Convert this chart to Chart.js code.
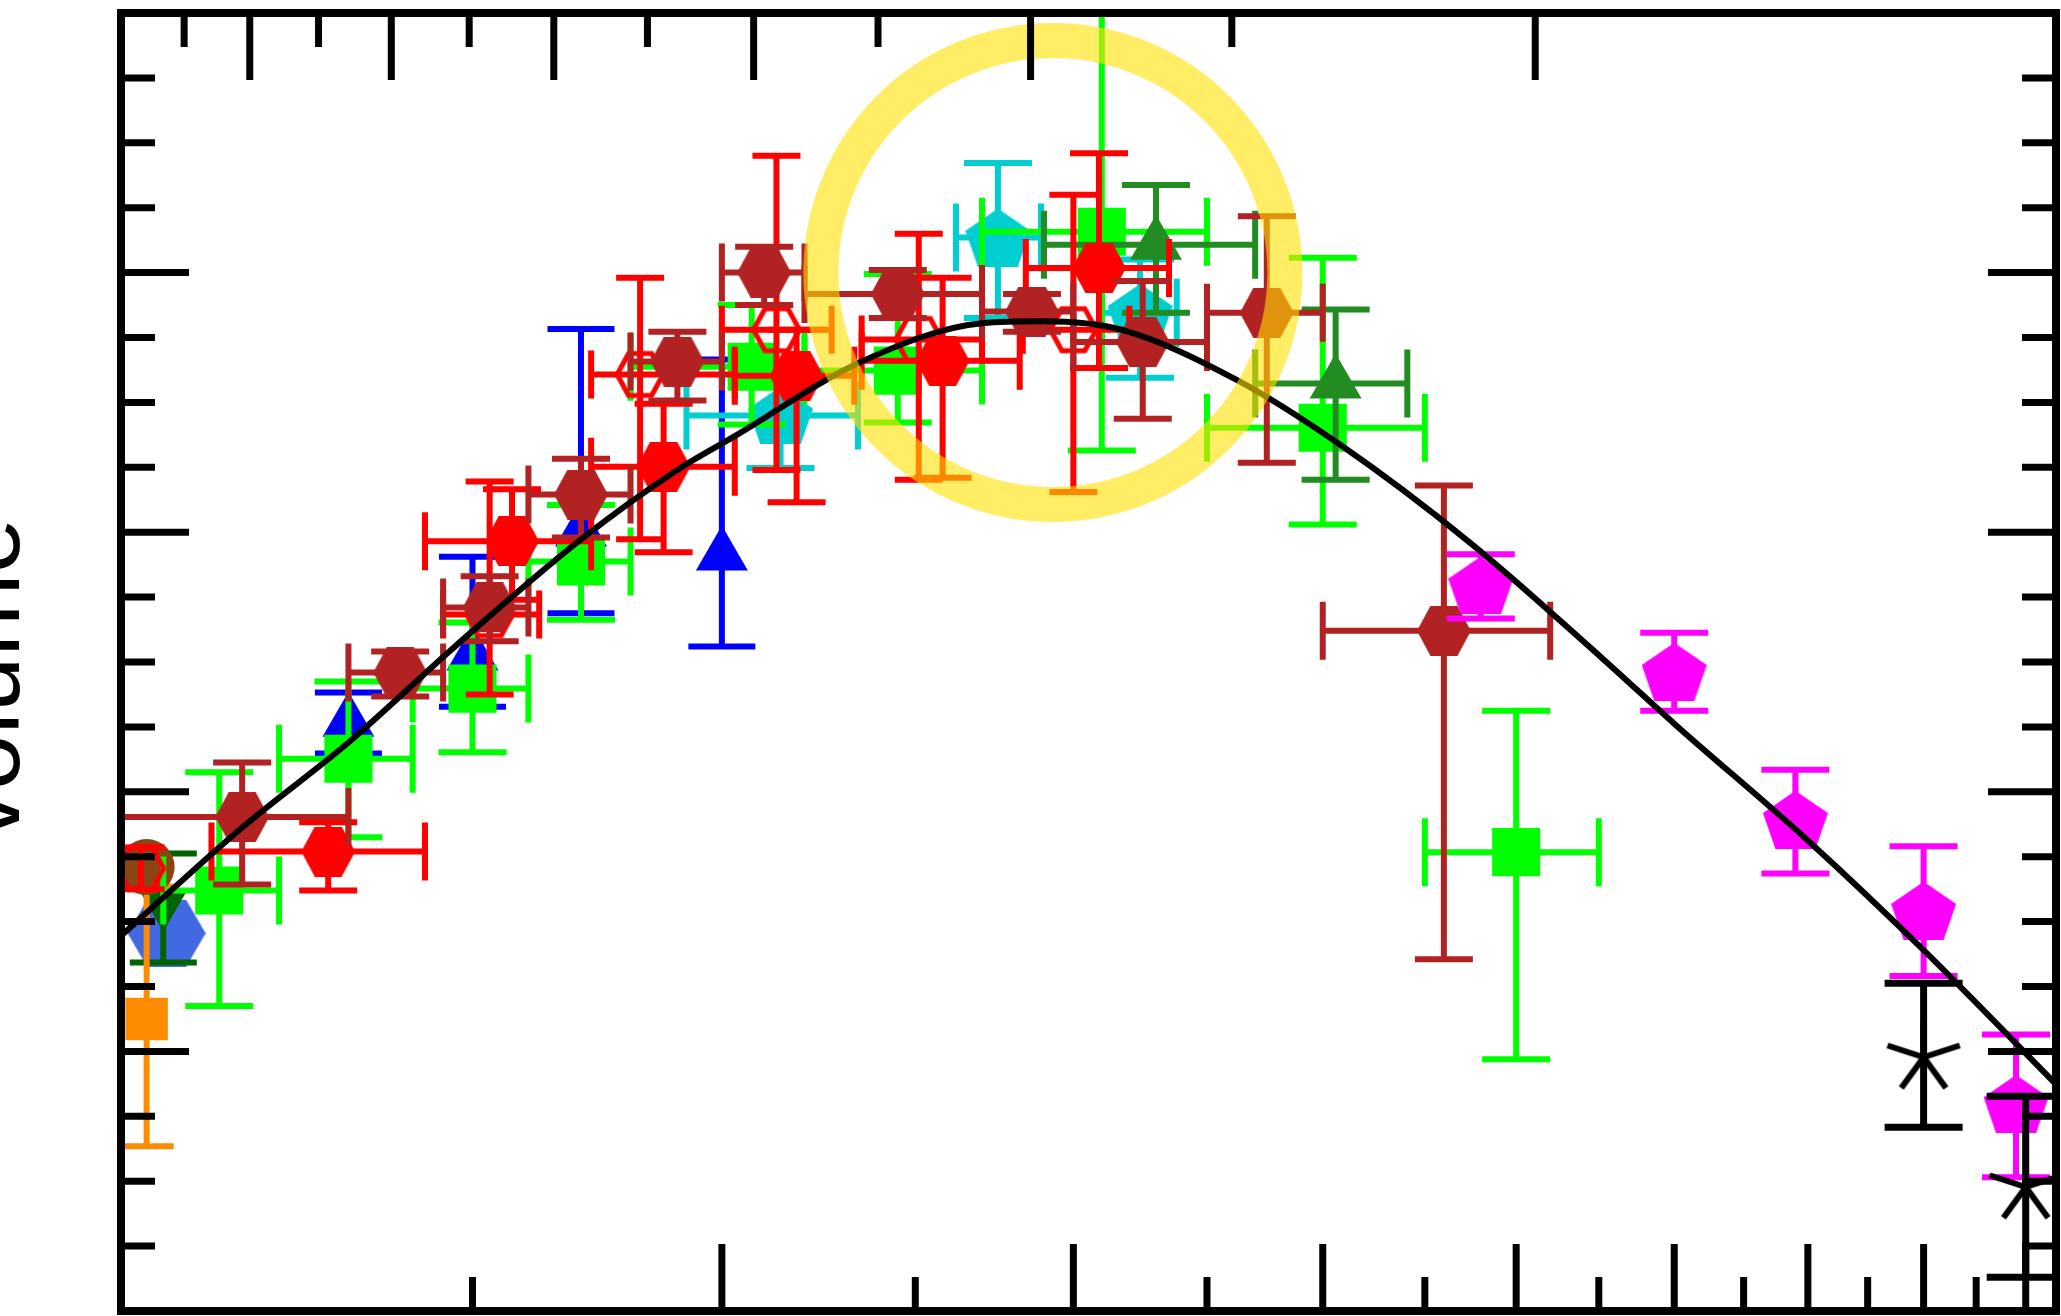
<!DOCTYPE html>
<html>
<head>
<meta charset="utf-8">
<title>Cosmic star formation history</title>
<script src="https://cdn.jsdelivr.net/npm/chart.js@4.4.1/dist/chart.umd.min.js"></script>
<style>
  html, body { margin: 0; padding: 0; background: #fff; }
  #wrap { width: 2061px; height: 1316px; }
</style>
</head>
<body>
<div id="wrap"><canvas id="sfrd" width="2061" height="1316"></canvas></div>
<script>
// rows: [z, zLo, zHi, logPsi, logPsiLo, logPsiHi]
const limeSquares = [
  [0.12, 0.05, 0.20, -1.752, -1.930, -1.570],
  [0.30, 0.20, 0.40, -1.549, -1.670, -1.430],
  [0.50, 0.40, 0.60, -1.441, -1.539, -1.339],
  [0.70, 0.60, 0.80, -1.245, -1.335, -1.158],
  [1.07, 0.80, 1.20, -0.945, -1.034, -0.850],
  [1.45, 1.20, 1.70, -0.951, -1.031, -0.802],
  [2.10, 1.70, 2.50, -0.737, -1.074, -0.300],
  [3.00, 2.50, 3.50, -1.039, -1.188, -0.777],
  [4.00, 3.50, 4.50, -1.693, -2.012, -1.475]
];
const cyanPentagons = [
  [1.14, 0.92, 1.34, -1.020, -1.101, -0.939],
  [1.75, 1.62, 1.89, -0.746, -0.870, -0.631],
  [2.24, 2.10, 2.38, -0.862, -0.962, -0.780]
];
const forestTriangles = [
  [2.30, 1.90, 2.70, -0.757, -0.862, -0.665],
  [3.06, 2.70, 3.41, -0.971, -1.119, -0.857]
];
const redOpenHexagons = [
  [0.023, null, null, -1.718, -1.750, -1.686],
  [0.53, 0.45, 0.62, -1.327, -1.450, -1.122],
  [0.82, 0.72, 1.03, -0.957, -1.211, -0.808],
  [1.13, 1.00, 1.27, -0.888, -1.104, -0.620],
  [1.51, 1.35, 1.70, -0.903, -1.119, -0.740],
  [2.00, 1.83, 2.20, -0.888, -1.138, -0.680]
];
const redHexagons = [
  [0.27, 0.11, 0.42, -1.692, -1.752, -1.647],
  [0.57, 0.42, 0.72, -1.214, -1.304, -1.134],
  [0.87, 0.72, 1.03, -1.099, -1.231, -1.002],
  [1.18, 1.03, 1.33, -0.959, -1.154, -0.888],
  [1.58, 1.35, 1.82, -0.936, -1.116, -0.808],
  [2.09, 1.84, 2.35, -0.793, -0.947, -0.616]
];
const brownHexagons = [
  [0.15, 0.00, 0.30, -1.639, -1.743, -1.555],
  [0.38, 0.30, 0.45, -1.416, -1.453, -1.384],
  [0.53, 0.45, 0.60, -1.316, -1.368, -1.268],
  [0.70, 0.60, 0.80, -1.142, -1.208, -1.087],
  [0.90, 0.80, 1.00, -0.937, -0.997, -0.891],
  [1.10, 1.00, 1.20, -0.800, -0.850, -0.760],
  [1.45, 1.20, 1.70, -0.833, -0.870, -0.796],
  [1.86, 1.70, 2.00, -0.860, -0.891, -0.833],
  [2.25, 2.00, 2.50, -0.907, -1.025, -0.813],
  [2.75, 2.50, 3.00, -0.862, -1.093, -0.713],
  [3.60, 3.00, 4.20, -1.352, -1.858, -1.128]
];

// rows: [z, logPsi, logPsiLo, logPsiHi]
const blueTriangles = [
  [0.30, -1.492, -1.541, -1.447],
  [0.50, -1.390, -1.469, -1.238],
  [0.70, -1.199, -1.325, -0.887],
  [1.00, -1.236, -1.376, -0.934]
];
const magentaPentagons = [
  [3.8, -1.282, -1.333, -1.234],
  [5.0, -1.415, -1.475, -1.355],
  [5.9, -1.643, -1.726, -1.566],
  [7.0, -1.783, -1.884, -1.684],
  [7.9, -2.081, -2.194, -1.974]
];
const blackAsterisks = [
  [7.0, -2.009, -2.117, -1.895],
  [8.0, -2.209, -2.348, -2.069]
];
const orangeSquares = [[0.03, -1.950, -2.146, -1.746]];
const darkGreenTriangles = [[0.05, -1.774, -1.863, -1.695]];

// rows: [z, logPsi]
const brownCircles = [[0.03, -1.716]];
const royalBlueHexagons = [[0.054, -1.818]];

// fitted density curve
const curveZ = [0, 0.15, 0.3, 0.47, 0.7, 0.9, 1.03, 1.35, 1.7, 1.9, 2.17, 2.62, 3.08, 3.74, 4.53, 5.0, 6.0, 7.0, 8.35];
const curveLogPsi = [-1.822, -1.655, -1.524, -1.376, -1.211, -1.104, -1.052, -0.937, -0.878, -0.875, -0.888, -0.965, -1.065, -1.216, -1.396, -1.495, -1.675, -1.844, -2.055];

// axes
const redshiftTicks = [0.5, 1, 1.5, 2, 2.5, 3, 3.5, 4, 4.5, 5, 5.5, 6, 6.5, 7, 7.5, 8];
const lookbackTicks = [1, 2, 3, 4, 5, 6, 7, 8, 9, 10, 11, 12];
const logPsiTicks = [-2.3, -2.2, -2.1, -2.0, -1.9, -1.8, -1.7, -1.6, -1.5, -1.4, -1.3, -1.2, -1.1, -1.0, -0.9, -0.8, -0.7, -0.6, -0.5];
const logPsiMajorTicks = [-2.0, -1.6, -1.2, -0.8];

const highlight = { z: 1.93, logPsi: -0.8 };

// flat LCDM, H0 = 70, Om = 0.3
const hubbleTime = 977.8 / 70;
function lookbackTime(z) {
  const n = 200, h = z / n;
  const f = s => 1 / ((1 + s) * Math.sqrt(0.3 * Math.pow(1 + s, 3) + 0.7));
  let sum = f(0) + f(z);
  for (let i = 1; i < n; i++) sum += f(i * h) * (i % 2 ? 4 : 2);
  return hubbleTime * sum * h / 3;
}
function redshiftAtLookback(t) {
  let lo = 0, hi = 20;
  for (let i = 0; i < 50; i++) {
    const mid = (lo + hi) / 2;
    if (lookbackTime(mid) < t) lo = mid; else hi = mid;
  }
  return (lo + hi) / 2;
}

// marker images
function makeMarker(w, h, draw) {
  const c = document.createElement('canvas');
  c.width = Math.ceil(w);
  c.height = Math.ceil(h);
  draw(c.getContext('2d'), c.width, c.height);
  return c;
}
function hexagon(w, h, fill, stroke, lw) {
  const pad = stroke ? lw : 0;
  return makeMarker(w + 2 * pad, h + 2 * pad, (g, cw, ch) => {
    const cx = cw / 2, cy = ch / 2, rx = w / 2, ry = h / 2;
    g.beginPath();
    g.moveTo(cx - rx, cy);
    g.lineTo(cx - rx / 2, cy - ry);
    g.lineTo(cx + rx / 2, cy - ry);
    g.lineTo(cx + rx, cy);
    g.lineTo(cx + rx / 2, cy + ry);
    g.lineTo(cx - rx / 2, cy + ry);
    g.closePath();
    if (fill) { g.fillStyle = fill; g.fill(); }
    if (stroke) { g.strokeStyle = stroke; g.lineWidth = lw; g.lineJoin = 'miter'; g.stroke(); }
  });
}
function pentagon(w, h, fill) {
  return makeMarker(w, h, (g) => {
    const sx = w / (2 * Math.sin(2 * Math.PI / 5));
    const sy = h / (1 + Math.cos(Math.PI / 5));
    g.beginPath();
    for (let i = 0; i < 5; i++) {
      const a = -Math.PI / 2 + i * 2 * Math.PI / 5;
      const X = w / 2 + Math.cos(a) * sx, Y = sy + Math.sin(a) * sy;
      if (i) g.lineTo(X, Y); else g.moveTo(X, Y);
    }
    g.closePath();
    g.fillStyle = fill;
    g.fill();
  });
}
function asterisk(r, color, lw) {
  const s = 2 * r + 2 * lw;
  return makeMarker(s, s, (g) => {
    g.strokeStyle = color;
    g.lineWidth = lw;
    g.beginPath();
    for (let i = 0; i < 5; i++) {
      const a = -Math.PI / 2 + i * 2 * Math.PI / 5;
      g.moveTo(s / 2, s / 2);
      g.lineTo(s / 2 + r * Math.cos(a), s / 2 + r * Math.sin(a));
    }
    g.stroke();
  });
}

const withXErr = rows => rows.map(([z, zLo, zHi, y, yLo, yHi]) => ({
  x: 1 + z, y,
  xMin: zLo == null ? null : 1 + zLo, xMax: zHi == null ? null : 1 + zHi,
  yMin: yLo, yMax: yHi
}));
const withYErr = rows => rows.map(([z, y, yLo, yHi]) => ({ x: 1 + z, y, yMin: yLo, yMax: yHi }));
const plain = rows => rows.map(([z, y]) => ({ x: 1 + z, y }));

function series(label, data, style, bars) {
  return Object.assign({
    type: 'scatter', label, data, showLine: false,
    pointBorderWidth: 0, errorBars: bars
  }, style);
}

const errorBarPlugin = {
  id: 'errorBars',
  beforeDatasetDraw(chart, args) {
    const ds = chart.data.datasets[args.index];
    const eb = ds.errorBars;
    if (!eb) return;
    const { ctx, chartArea: a } = chart;
    const xs = chart.scales.x, ys = chart.scales.y;
    const h = eb.cap / 2;
    ctx.save();
    ctx.beginPath();
    ctx.rect(a.left, a.top, a.right - a.left, a.bottom - a.top);
    ctx.clip();
    ctx.strokeStyle = eb.color;
    ctx.lineWidth = eb.width;
    ds.data.forEach(p => {
      const px = xs.getPixelForValue(p.x), py = ys.getPixelForValue(p.y);
      ctx.beginPath();
      if (p.yMin != null) {
        const y0 = ys.getPixelForValue(p.yMin), y1 = ys.getPixelForValue(p.yMax);
        ctx.moveTo(px, y0); ctx.lineTo(px, y1);
        ctx.moveTo(px - h, y0); ctx.lineTo(px + h, y0);
        ctx.moveTo(px - h, y1); ctx.lineTo(px + h, y1);
      }
      if (p.xMin != null) {
        const x0 = xs.getPixelForValue(p.xMin), x1 = xs.getPixelForValue(p.xMax);
        ctx.moveTo(x0, py); ctx.lineTo(x1, py);
        ctx.moveTo(x0, py - h); ctx.lineTo(x0, py + h);
        ctx.moveTo(x1, py - h); ctx.lineTo(x1, py + h);
      }
      ctx.stroke();
    });
    ctx.restore();
  }
};

const framePlugin = {
  id: 'frame',
  afterDatasetsDraw(chart) {
    const { ctx, chartArea: a } = chart;
    const xs = chart.scales.x, ys = chart.scales.y;
    ctx.save();

    // translucent ring around the peak
    ctx.beginPath();
    ctx.arc(xs.getPixelForValue(1 + highlight.z), ys.getPixelForValue(highlight.logPsi), 232, 0, 2 * Math.PI);
    ctx.strokeStyle = 'rgba(255, 225, 0, 0.6)';
    ctx.lineWidth = 35;
    ctx.stroke();

    // inward ticks
    ctx.strokeStyle = '#000';
    ctx.lineWidth = 7;
    ctx.beginPath();
    redshiftTicks.forEach(z => {
      const px = xs.getPixelForValue(1 + z);
      const len = Number.isInteger(z) ? 67 : 34;
      ctx.moveTo(px, a.bottom); ctx.lineTo(px, a.bottom - len);
    });
    lookbackTicks.forEach(t => {
      const px = xs.getPixelForValue(1 + redshiftAtLookback(t));
      const len = t % 2 === 0 ? 67 : 34;
      ctx.moveTo(px, a.top); ctx.lineTo(px, a.top + len);
    });
    logPsiTicks.forEach(v => {
      const py = ys.getPixelForValue(v);
      const len = logPsiMajorTicks.some(m => Math.abs(m - v) < 1e-6) ? 68 : 34;
      ctx.moveTo(a.left, py); ctx.lineTo(a.left + len, py);
      ctx.moveTo(a.right, py); ctx.lineTo(a.right - len, py);
    });
    ctx.stroke();

    ctx.lineWidth = 8;
    ctx.strokeRect(a.left, a.top, a.right - a.left, a.bottom - a.top);

    // y axis title
    ctx.translate(19, 679);
    ctx.rotate(-Math.PI / 2);
    ctx.font = '100px "Liberation Sans", Arial, sans-serif';
    ctx.fillStyle = '#000';
    ctx.textAlign = 'center';
    ctx.textBaseline = 'alphabetic';
    ctx.fillText('volume', 0, 0);
    ctx.restore();
  }
};

// first dataset is drawn on top
const datasets = [
  {
    type: 'line', label: 'fit',
    data: curveZ.map((z, i) => ({ x: 1 + z, y: curveLogPsi[i] })),
    borderColor: '#000', borderWidth: 6, pointRadius: 0,
    cubicInterpolationMode: 'monotone', fill: false
  },
  series('asterisks', withYErr(blackAsterisks),
    { pointStyle: asterisk(38, '#000', 6), pointRadius: 40 },
    { color: '#000', width: 7, cap: 78 }),
  series('magenta', withYErr(magentaPentagons),
    { pointStyle: pentagon(65, 58, '#ff00ff'), pointRadius: 32 },
    { color: '#ff00ff', width: 6, cap: 68 }),
  series('brown', withXErr(brownHexagons),
    { pointStyle: hexagon(54, 50, '#b22222'), pointRadius: 27 },
    { color: '#b22222', width: 6, cap: 58 }),
  series('red', withXErr(redHexagons),
    { pointStyle: hexagon(54, 50, '#ff0000'), pointRadius: 27 },
    { color: '#ff0000', width: 6, cap: 58 }),
  series('red open', withXErr(redOpenHexagons),
    { pointStyle: hexagon(46, 42, null, '#ff0000', 5), pointRadius: 26 },
    { color: '#ff0000', width: 6, cap: 48 }),
  series('forest', withXErr(forestTriangles),
    { pointStyle: 'triangle', pointRadius: 30, backgroundColor: '#228b22' },
    { color: '#228b22', width: 6, cap: 68 }),
  series('lime', withXErr(limeSquares),
    { pointStyle: 'rect', pointRadius: 34, backgroundColor: '#00ff00' },
    { color: '#00ff00', width: 6, cap: 68 }),
  series('cyan', withXErr(cyanPentagons),
    { pointStyle: pentagon(65, 58, '#00ced1'), pointRadius: 32 },
    { color: '#00ced1', width: 6, cap: 68 }),
  series('blue', withYErr(blueTriangles),
    { pointStyle: 'triangle', pointRadius: 30, backgroundColor: '#0000ff' },
    { color: '#0000ff', width: 6, cap: 67 }),
  series('brown circle', plain(brownCircles),
    { pointStyle: 'circle', pointRadius: 28, backgroundColor: '#8b4513' }),
  series('orange', withYErr(orangeSquares),
    { pointStyle: 'rect', pointRadius: 30, backgroundColor: '#ff8c00' },
    { color: '#ff8c00', width: 6, cap: 54 }),
  series('dark green', withYErr(darkGreenTriangles),
    { pointStyle: 'triangle', pointRotation: 180, pointRadius: 27, backgroundColor: '#006400' },
    { color: '#006400', width: 6, cap: 67 }),
  series('royal blue', plain(royalBlueHexagons),
    { pointStyle: hexagon(78, 67, '#4169e1'), pointRadius: 39 })
];

new Chart(document.getElementById('sfrd').getContext('2d'), {
  type: 'scatter',
  data: { datasets },
  options: {
    responsive: false,
    animation: false,
    events: [],
    layout: { autoPadding: false, padding: { left: 121, top: 13, right: 5, bottom: 5 } },
    scales: {
      x: { type: 'logarithmic', min: 1, max: 9.32, display: false },
      y: { type: 'linear', min: -2.4, max: -0.4, display: false }
    },
    plugins: { legend: { display: false }, tooltip: { enabled: false } }
  },
  plugins: [errorBarPlugin, framePlugin]
});
</script>
</body>
</html>
